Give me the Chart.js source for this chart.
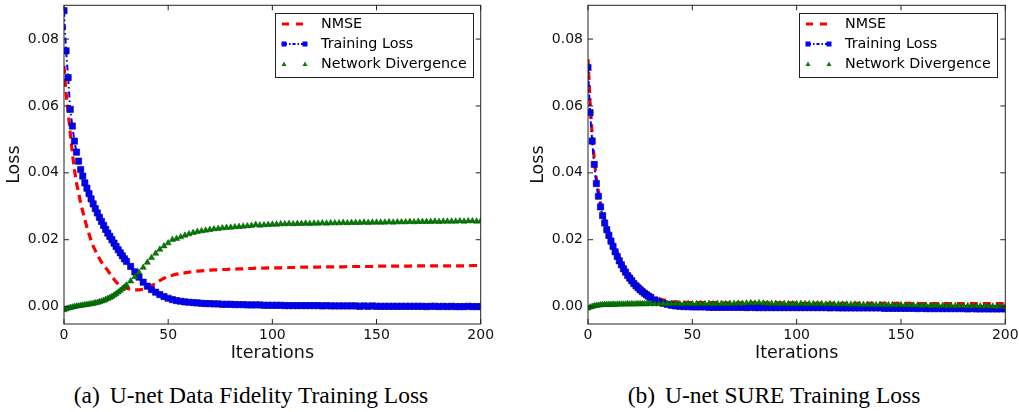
<!DOCTYPE html>
<html>
<head>
<meta charset="utf-8">
<script src="https://cdn.jsdelivr.net/npm/chart.js@4"></script>
<style>
  body { margin: 0; background: #fff; width: 1019px; height: 412px; position: relative; overflow: hidden; }
  canvas { position: absolute; top: 0; }
  #chartA { left: 0; }
  #chartB { left: 510px; }
  .cap { position: absolute; top: 383px; font-family: "Liberation Serif", "Times New Roman", serif; font-size: 23.5px; line-height: 24px; white-space: nowrap; transform: translateX(-50%); color: #000; }
  .cap span { margin-right: 4px; }
</style>
</head>
<body>
<canvas id="chartA" width="510" height="370"></canvas>
<canvas id="chartB" width="509" height="370"></canvas>
<div class="cap" style="left:251px"><span>(a)</span> U-net Data Fidelity Training Loss</div>
<div class="cap" style="left:774px"><span>(b)</span> U-net SURE Training Loss</div>
<script>
// iterasi (sumbu x)
const iterations = [
  0,1,2,3,4,5,6,7,8,9,10,11,12,13,14,15,16,17,18,19,20,21,22,23,24,25,26,27,28,29,30,
  32,34,36,38,40,42,44,46,48,50,
  52,54,56,58,60,62,64,66,68,70,
  72,74,76,78,80,82,84,86,88,90,
  92,94,96,98,100,102,104,106,108,110,
  112,114,116,118,120,122,124,126,128,130,
  132,134,136,138,140,142,144,146,148,150,
  152,154,156,158,160,162,164,166,168,170,
  172,174,176,178,180,182,184,186,188,190,
  192,194,196,198,200
];

// (a) Data Fidelity
const nmseA = [
  0.0720,0.0640,0.0580,0.0520,0.0460,0.0410,0.0370,0.0340,0.0310,0.0285,
  0.0260,0.0238,0.0218,0.0198,0.0181,0.0168,0.0155,0.0144,0.0133,0.0123,
  0.0116,0.0108,0.0099,0.0090,0.0082,0.0074,0.0068,0.0063,0.0060,0.0057,0.0055,
  0.0052,0.0050,0.0050,0.0052,0.0056,0.0062,0.0070,0.0078,0.0085,0.0090,
  0.0094,0.0097,0.0099,0.0101,0.0103,0.0104,0.0106,0.0107,0.0108,0.0109,
  0.0110,0.0110,0.0111,0.0111,0.0112,0.0112,0.0113,0.0113,0.0114,0.0114,
  0.0115,0.0115,0.0115,0.0116,0.0116,0.0116,0.0116,0.0117,0.0117,0.0117,
  0.0117,0.0118,0.0118,0.0118,0.0118,0.0118,0.0119,0.0119,0.0119,0.0119,
  0.0119,0.0119,0.0120,0.0120,0.0120,0.0120,0.0120,0.0120,0.0120,0.0121,
  0.0121,0.0121,0.0121,0.0121,0.0121,0.0121,0.0121,0.0121,0.0122,0.0122,
  0.0122,0.0122,0.0122,0.0122,0.0122,0.0122,0.0122,0.0122,0.0122,0.0122,
  0.0122,0.0122,0.0123,0.0123,0.0123
];
const trainA = [
  0.0885,0.0765,0.0685,0.0590,0.0540,0.0495,0.0462,0.0435,0.0410,0.0390,
  0.0370,0.0354,0.0338,0.0322,0.0307,0.0293,0.0280,0.0267,0.0255,0.0243,
  0.0231,0.0220,0.0210,0.0200,0.0190,0.0180,0.0170,0.0161,0.0152,0.0143,0.0135,
  0.0120,0.0104,0.0088,0.0073,0.0061,0.0051,0.0043,0.0036,0.0030,0.0025,
  0.0021,0.0018,0.0016,0.0014,0.0013,0.0012,0.0011,0.0010,0.0009,0.0009,
  0.0008,0.0008,0.0007,0.0007,0.0007,0.0006,0.0006,0.0006,0.0005,0.0005,
  0.0005,0.0005,0.0004,0.0004,0.0004,0.0004,0.0004,0.0003,0.0003,0.0003,
  0.0003,0.0003,0.0003,0.0003,0.0003,0.0003,0.0002,0.0003,0.0002,0.0002,
  0.0002,0.0002,0.0002,0.0002,0.0002,0.0001,0.0002,0.0001,0.0002,0.0001,
  0.0001,0.0001,0.0001,0.0001,0.0001,0.0001,0.0001,0.0001,0.0001,0.0001,
  0.0001,0.0000,0.0001,0.0001,0.0000,0.0001,0.0000,0.0001,0.0000,0.0000,
  0.0000,0.0001,0.0000,0.0000,0.0000
];
const divA = [
  -0.0010,-0.0007,-0.0005,-0.0003,-0.0002,0.0000,0.0001,0.0002,0.0003,0.0004,
  0.0005,0.0006,0.0007,0.0008,0.0009,0.0011,0.0012,0.0014,0.0016,0.0018,
  0.0021,0.0024,0.0027,0.0030,0.0034,0.0038,0.0043,0.0048,0.0053,0.0058,0.0064,
  0.0076,0.0089,0.0102,0.0117,0.0132,0.0146,0.0159,0.0171,0.0181,0.0190,
  0.0200,0.0203,0.0208,0.0213,0.0217,0.0221,0.0224,0.0226,0.0228,0.0230,
  0.0232,0.0233,0.0235,0.0236,0.0237,0.0238,0.0239,0.0240,0.0241,0.0242,
  0.0245,0.0243,0.0244,0.0245,0.0246,0.0246,0.0247,0.0247,0.0248,0.0247,
  0.0248,0.0248,0.0249,0.0248,0.0249,0.0249,0.0250,0.0249,0.0250,0.0250,
  0.0250,0.0251,0.0250,0.0251,0.0251,0.0251,0.0252,0.0251,0.0252,0.0252,
  0.0252,0.0252,0.0253,0.0252,0.0253,0.0253,0.0253,0.0254,0.0253,0.0254,
  0.0254,0.0254,0.0254,0.0255,0.0254,0.0255,0.0255,0.0255,0.0255,0.0256,
  0.0255,0.0256,0.0256,0.0255,0.0256
];

// (b) SURE
const nmseB = [
  0.0740,0.0610,0.0515,0.0440,0.0382,0.0343,0.0310,0.0284,0.0262,0.0242,
  0.0224,0.0207,0.0191,0.0175,0.0161,0.0148,0.0136,0.0124,0.0114,0.0104,
  0.0095,0.0087,0.0079,0.0072,0.0066,0.0060,0.0054,0.0049,0.0044,0.0040,0.0036,
  0.0030,0.0024,0.0020,0.0017,0.0015,0.0014,0.0013,0.0013,0.0012,0.0012,
  0.0012,0.0012,0.0012,0.0012,0.0012,0.0012,0.0011,0.0011,0.0011,0.0011,
  0.0011,0.0011,0.0011,0.0011,0.0011,0.0011,0.0011,0.0011,0.0011,0.0011,
  0.0011,0.0011,0.0011,0.0011,0.0011,0.0010,0.0010,0.0010,0.0010,0.0010,
  0.0010,0.0010,0.0010,0.0010,0.0010,0.0010,0.0010,0.0010,0.0010,0.0010,
  0.0010,0.0010,0.0010,0.0010,0.0010,0.0010,0.0010,0.0010,0.0010,0.0010,
  0.0010,0.0010,0.0009,0.0009,0.0009,0.0009,0.0009,0.0009,0.0009,0.0009,
  0.0009,0.0009,0.0009,0.0009,0.0009,0.0009,0.0009,0.0009,0.0009,0.0009,
  0.0009,0.0009,0.0009,0.0009,0.0009
];
const trainB = [
  0.0715,0.0580,0.0495,0.0425,0.0368,0.0330,0.0298,0.0272,0.0250,0.0230,
  0.0213,0.0196,0.0180,0.0164,0.0150,0.0137,0.0125,0.0113,0.0103,0.0093,
  0.0085,0.0077,0.0069,0.0062,0.0056,0.0050,0.0045,0.0040,0.0035,0.0031,0.0027,
  0.0020,0.0014,0.0010,0.0007,0.0004,0.0002,0.0001,0.0000,0.0000,-0.0001,
  -0.0001,-0.0001,-0.0001,-0.0002,-0.0002,-0.0002,-0.0002,-0.0002,-0.0002,-0.0002,
  -0.0002,-0.0002,-0.0003,-0.0002,-0.0003,-0.0003,-0.0003,-0.0003,-0.0003,-0.0003,
  -0.0003,-0.0003,-0.0003,-0.0003,-0.0003,-0.0003,-0.0003,-0.0003,-0.0003,-0.0003,
  -0.0003,-0.0003,-0.0004,-0.0003,-0.0004,-0.0004,-0.0004,-0.0004,-0.0004,-0.0004,
  -0.0004,-0.0004,-0.0004,-0.0004,-0.0004,-0.0005,-0.0005,-0.0005,-0.0005,-0.0005,
  -0.0005,-0.0005,-0.0005,-0.0006,-0.0005,-0.0006,-0.0006,-0.0006,-0.0006,-0.0006,
  -0.0006,-0.0006,-0.0006,-0.0006,-0.0006,-0.0007,-0.0006,-0.0007,-0.0007,-0.0007,
  -0.0007,-0.0007,-0.0007,-0.0007,-0.0007
];
const divB = [
  -0.0005,-0.0002,0.0000,0.0002,0.0003,0.0004,0.0005,0.0005,0.0006,0.0006,
  0.0006,0.0006,0.0007,0.0006,0.0007,0.0007,0.0007,0.0007,0.0007,0.0008,
  0.0007,0.0008,0.0007,0.0008,0.0008,0.0008,0.0008,0.0008,0.0008,0.0009,0.0008,
  0.0008,0.0008,0.0009,0.0008,0.0008,0.0009,0.0008,0.0008,0.0009,0.0008,
  0.0008,0.0009,0.0008,0.0009,0.0008,0.0009,0.0009,0.0008,0.0009,0.0009,
  0.0010,0.0009,0.0010,0.0011,0.0010,0.0011,0.0010,0.0009,0.0009,0.0009,
  0.0008,0.0009,0.0008,0.0008,0.0008,0.0009,0.0008,0.0008,0.0008,0.0008,
  0.0008,0.0007,0.0008,0.0007,0.0007,0.0007,0.0007,0.0006,0.0007,0.0006,
  0.0006,0.0006,0.0006,0.0005,0.0006,0.0005,0.0005,0.0005,0.0004,0.0005,
  0.0004,0.0004,0.0004,0.0004,0.0003,0.0004,0.0003,0.0003,0.0003,0.0003,
  0.0002,0.0003,0.0002,0.0002,0.0002,0.0002,0.0001,0.0002,0.0001,0.0001,
  0.0001,0.0001,0.0000,0.0001,0.0000
];

const seriesNames = ['NMSE', 'Training Loss', 'Network Divergence'];
const xTicks = [0, 50, 100, 150, 200];
const yTicks = [0, 0.02, 0.04, 0.06, 0.08];

Chart.defaults.font.family = '"DejaVu Sans", sans-serif';
Chart.defaults.color = '#111';

function toPoints(values) {
  return iterations.map((x, i) => ({ x: x, y: values[i] }));
}

// bingkai dan tick ke dalam seperti matplotlib
const frameTicks = {
  id: 'frameTicks',
  afterDatasetsDraw(chart) {
    const { ctx, chartArea: a, scales: { x, y } } = chart;
    ctx.save();
    ctx.strokeStyle = '#222';
    ctx.lineWidth = 1;
    ctx.setLineDash([]);
    ctx.strokeRect(a.left, a.top, a.right - a.left, a.bottom - a.top);
    ctx.beginPath();
    xTicks.forEach(v => {
      const px = x.getPixelForValue(v);
      ctx.moveTo(px, a.bottom); ctx.lineTo(px, a.bottom - 5);
      ctx.moveTo(px, a.top); ctx.lineTo(px, a.top + 5);
    });
    yTicks.forEach(v => {
      const py = y.getPixelForValue(v);
      ctx.moveTo(a.left, py); ctx.lineTo(a.left + 5, py);
      ctx.moveTo(a.right, py); ctx.lineTo(a.right - 5, py);
    });
    ctx.stroke();
    ctx.restore();
  }
};

// legenda berbingkai di pojok kanan atas
const boxLegend = {
  id: 'boxLegend',
  afterDraw(chart) {
    const { ctx, chartArea: a } = chart;
    const w = 198, h = 64;
    const x0 = Math.round(a.right - 8 - w), y0 = Math.round(a.top + 8);
    ctx.save();
    ctx.fillStyle = '#fff';
    ctx.fillRect(x0, y0, w, h);
    ctx.strokeStyle = '#222';
    ctx.lineWidth = 1;
    ctx.strokeRect(x0 + 0.5, y0 + 0.5, w, h);
    ctx.font = '14.3px "DejaVu Sans"';
    ctx.textBaseline = 'middle';
    const xs = x0 + 9, xe = x0 + 30;
    seriesNames.forEach((name, i) => {
      const yy = y0 + 11 + i * 20;
      if (i === 0) {
        ctx.strokeStyle = '#ff0000'; ctx.lineWidth = 3; ctx.setLineDash([7, 7]);
        ctx.beginPath(); ctx.moveTo(xs - 2, yy); ctx.lineTo(xe + 2, yy); ctx.stroke();
      } else if (i === 1) {
        ctx.strokeStyle = '#0000ff'; ctx.lineWidth = 2; ctx.setLineDash([3, 2, 1.5, 2]);
        ctx.beginPath(); ctx.moveTo(xs, yy); ctx.lineTo(xe, yy); ctx.stroke();
        ctx.setLineDash([]);
        ctx.fillStyle = '#0000ff';
        ctx.fillRect(xs - 2.5, yy - 2.5, 5, 5);
        ctx.fillRect(xe - 2.5, yy - 2.5, 5, 5);
      } else {
        ctx.setLineDash([]);
        ctx.fillStyle = '#007f00';
        [xs, xe].forEach(px => {
          ctx.beginPath();
          ctx.moveTo(px, yy - 2.5); ctx.lineTo(px + 2.5, yy + 2); ctx.lineTo(px - 2.5, yy + 2);
          ctx.closePath(); ctx.fill();
        });
      }
      ctx.fillStyle = '#000';
      ctx.fillText(name, x0 + 46, yy);
    });
    ctx.restore();
  }
};

function makeChart(id, nmse, train, div, padLeft, padRight) {
  const ctx = document.getElementById(id).getContext('2d');
  return new Chart(ctx, {
    type: 'line',
    data: {
      datasets: [
        {
          label: seriesNames[0],
          data: toPoints(nmse),
          borderColor: '#ff0000',
          borderWidth: 3.2,
          borderDash: [8, 5],
          pointRadius: 0,
          fill: false,
          order: 2
        },
        {
          label: seriesNames[1],
          data: toPoints(train),
          borderColor: '#0000ff',
          borderWidth: 2,
          borderDash: [6, 3, 1.5, 3],
          pointStyle: 'rect',
          pointRadius: 4.4,
          pointBackgroundColor: '#0000ff',
          pointBorderColor: '#00008b',
          pointBorderWidth: 0.6,
          fill: false,
          order: 1
        },
        {
          label: seriesNames[2],
          data: toPoints(div),
          showLine: false,
          pointStyle: 'triangle',
          pointRadius: 3.6,
          pointBackgroundColor: '#007f00',
          pointBorderColor: '#004d00',
          pointBorderWidth: 0.5,
          order: 0
        }
      ]
    },
    options: {
      responsive: false,
      animation: false,
      events: [],
      layout: { padding: { left: padLeft, right: padRight, top: 5.3, bottom: 0 } },
      plugins: { legend: { display: false }, tooltip: { enabled: false } },
      scales: {
        x: {
          type: 'linear',
          min: 0,
          max: 200,
          afterBuildTicks: s => { s.ticks = xTicks.map(v => ({ value: v })); },
          afterFit: s => { s.height = 46; s.paddingLeft = 0; s.paddingRight = 0; },
          grid: { display: false, drawTicks: false },
          border: { display: false },
          ticks: { font: { size: 14 }, color: '#111', padding: 3, maxRotation: 0, autoSkip: false, callback: v => String(v) },
          title: { display: true, text: 'Iterations', font: { size: 17.5 }, color: '#111', padding: { top: 0, bottom: 6 } }
        },
        y: {
          type: 'linear',
          min: -0.0052,
          max: 0.0901,
          afterBuildTicks: s => { s.ticks = yTicks.map(v => ({ value: v })); },
          afterFit: s => { s.width = 64; s.paddingTop = 0; s.paddingBottom = 0; },
          grid: { display: false, drawTicks: false },
          border: { display: false },
          ticks: { font: { size: 14 }, color: '#111', padding: 5, callback: v => v.toFixed(2) },
          title: { display: true, text: 'Loss', font: { size: 17.5 }, color: '#111', padding: { top: 4, bottom: 0 } }
        }
      }
    },
    plugins: [frameTicks, boxLegend]
  });
}

makeChart('chartA', nmseA, trainA, divA, 0, 29.3);
makeChart('chartB', nmseB, trainB, divB, 14, 13.7);
</script>
</body>
</html>
